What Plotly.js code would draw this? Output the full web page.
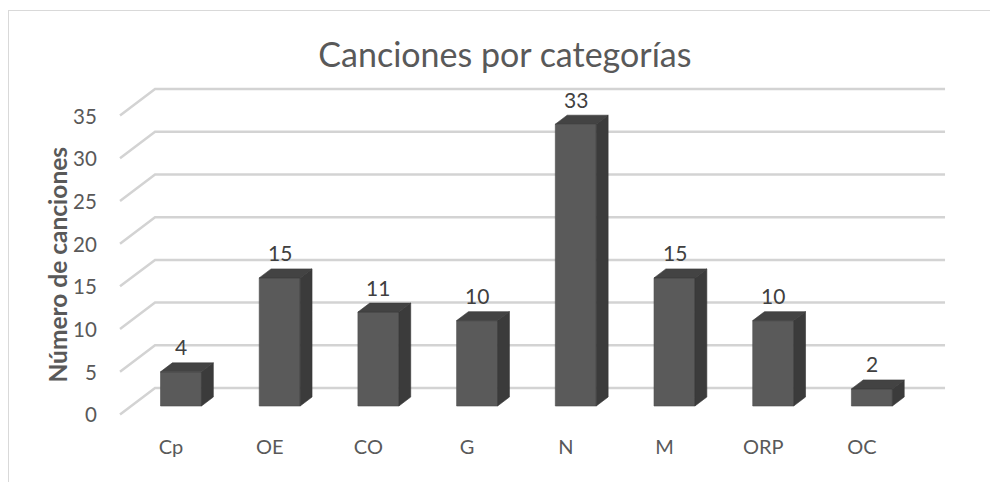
<!DOCTYPE html>
<html>
<head>
<meta charset="utf-8">
<script src="https://cdn.plot.ly/plotly-3.0.1.min.js"></script>
<style>
  html, body { margin: 0; padding: 0; background: #ffffff; }
  #wrap { position: relative; width: 990px; height: 482px; overflow: hidden; background: #ffffff; }
  #frame { position: absolute; left: 8px; top: 10px; width: 1100px; height: 600px; border: 1px solid #d9d9d9; box-sizing: border-box; }
  #chart { position: absolute; left: 0; top: 0; width: 990px; height: 482px; }
</style>
</head>
<body>
<div id="wrap">
  <div id="frame"></div>
  <div id="chart"></div>
</div>
<script>
// ---- data ----
const categories = ['Cp', 'OE', 'CO', 'G', 'N', 'M', 'ORP', 'OC'];
const values = [4, 15, 11, 10, 33, 15, 10, 2];
const tickValues = [0, 5, 10, 15, 20, 25, 30, 35];
const tickLabels = ['0', '5', '10', '15', '20', '25', '30', '35'];
const chartTitle = 'Canciones por categorías';
const yTitle = 'Número de canciones';

// ---- pseudo-3D geometry (style) ----
const BAR_W = 0.415;      // front face width (category units)
const DEPTH_X = 0.12;     // bar depth offset, x
const DEPTH_Y = 1.05;     // bar depth offset, y (value units)
const WALL_BACK_Y = 2.108;  // back wall offset above bar plane
const WALL_DX = -0.355;   // wall depth, x
const WALL_DY = -3.10;    // wall depth, y
const GRID_X0 = -0.263;
const GRID_X1 = 7.741;

const FONT = 'Lato, Carlito, Calibri, "Open Sans", sans-serif';
const idx = categories.map((c, i) => i);

// gridlines as shapes below traces
const gridShapes = tickValues.map(v => {
  const yb = v + WALL_BACK_Y;
  const xf = GRID_X0 + WALL_DX, yf = yb + WALL_DY;
  return {
    type: 'path', xref: 'x', yref: 'y', layer: 'below',
    path: `M ${xf},${yf} L ${GRID_X0},${yb} L ${GRID_X1},${yb}`,
    line: { color: '#d3d3d3', width: 2.5 }
  };
});

// front faces
const frontTrace = {
  type: 'bar', x: idx, y: values, width: BAR_W,
  marker: { color: '#5a5a5a', line: { color: '#4c4c4c', width: 0.6 } },
  hoverinfo: 'skip', showlegend: false
};

// side and top faces
const sx = [], sy = [], tx = [], ty = [];
idx.forEach((i) => {
  const v = values[i];
  const l = i - BAR_W / 2, r = i + BAR_W / 2;
  sx.push(r, r + DEPTH_X, r + DEPTH_X, r, r, null);
  sy.push(0, DEPTH_Y, v + DEPTH_Y, v, 0, null);
  tx.push(l, r, r + DEPTH_X, l + DEPTH_X, l, null);
  ty.push(v, v, v + DEPTH_Y, v + DEPTH_Y, v, null);
});
const sideTrace = {
  type: 'scatter', mode: 'lines', x: sx, y: sy, fill: 'toself',
  fillcolor: '#3b3b3b', line: { color: '#363636', width: 0.6 },
  hoverinfo: 'skip', showlegend: false
};
const topTrace = {
  type: 'scatter', mode: 'lines', x: tx, y: ty, fill: 'toself',
  fillcolor: '#434343', line: { color: '#3a3a3a', width: 0.6 },
  hoverinfo: 'skip', showlegend: false
};

// annotations: data labels, y tick labels, y title
const annotations = [];
idx.forEach(i => {
  annotations.push({
    x: i, y: values[i], xref: 'x', yref: 'y', text: String(values[i]),
    showarrow: false, yanchor: 'middle', xanchor: 'center', yshift: 25,
    font: { family: FONT, size: 21, color: '#404040' }
  });
});
tickValues.forEach((v, k) => {
  annotations.push({
    x: GRID_X0 + WALL_DX, y: v + WALL_BACK_Y + WALL_DY, xref: 'x', yref: 'y',
    text: tickLabels[k], showarrow: false, xanchor: 'right', yanchor: 'middle',
    xshift: -21, font: { family: FONT, size: 20.5, color: '#595959' }
  });
});
annotations.push({
  x: -0.0505, y: 0.4714, xref: 'paper', yref: 'paper', text: '<b>' + yTitle + '</b>',
  showarrow: false, textangle: -90, xanchor: 'center', yanchor: 'middle',
  font: { family: FONT, size: 24.5, color: '#595959' }
});

const layout = {
  width: 990, height: 482,
  margin: { l: 100, r: 30, t: 80, b: 52 },
  paper_bgcolor: 'rgba(0,0,0,0)', plot_bgcolor: 'rgba(0,0,0,0)',
  title: {
    text: chartTitle, x: 0.51, xanchor: 'center', y: 0.886, yanchor: 'middle',
    font: { family: FONT, size: 34, color: '#595959' }
  },
  xaxis: {
    range: [-0.8207, 7.8926], tickvals: idx, ticktext: categories,
    showgrid: false, zeroline: false, showline: false, ticks: '',
    ticklabelshift: -10, ticklabelstandoff: 3,
    tickfont: { family: FONT, size: 20, color: '#595959' }, fixedrange: true
  },
  yaxis: {
    range: [-2.81, 38.17], showgrid: false, zeroline: false, showline: false,
    showticklabels: false, ticks: '', fixedrange: true
  },
  shapes: gridShapes,
  annotations: annotations,
  bargap: 0, showlegend: false
};

Plotly.newPlot('chart', [frontTrace, sideTrace, topTrace], layout, { staticPlot: true, displayModeBar: false });
</script>
</body>
</html>
